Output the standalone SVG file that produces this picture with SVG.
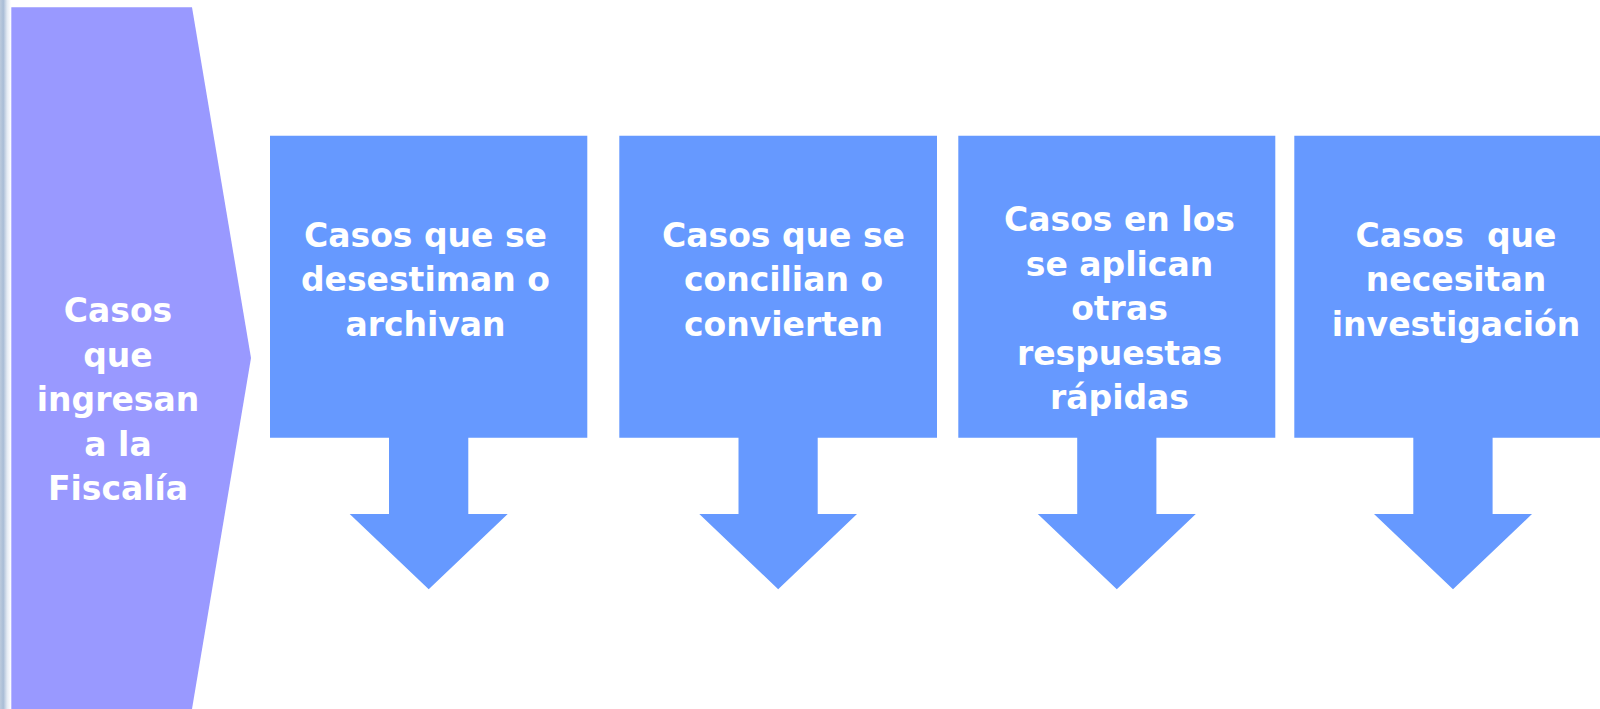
<svg xmlns="http://www.w3.org/2000/svg" width="1600" height="709" viewBox="0 0 1600 709">
  <style>
    .lbl { font-family: "DejaVu Sans", Verdana, sans-serif; font-weight: bold; font-size: 33px; fill: #FFFFFF; text-anchor: middle; white-space: pre; }
    .callout { fill: #6699FF; }
    .entry { fill: #9999FF; }
  </style>
  <defs>
    <linearGradient id="edge" x1="0" y1="0" x2="1" y2="0">
      <stop offset="0" stop-color="#bccbdd"/>
      <stop offset="0.3" stop-color="#a9bdd6"/>
      <stop offset="0.65" stop-color="#e4ebf3"/>
      <stop offset="1" stop-color="#ffffff"/>
    </linearGradient>
  </defs>
  <rect x="0" y="0" width="1600" height="709" fill="#FFFFFF"/>
  <rect x="0" y="0" width="11" height="709" fill="url(#edge)"/>

  <g id="node-entrada">
    <path class="entry" d="M11.3,7.3 H192 L251,358 L192,709 H11.3 Z"/>
    <text class="lbl"><tspan x="118" y="322">Casos</tspan><tspan x="118" y="366.5">que</tspan><tspan x="118" y="411">ingresan</tspan><tspan x="118" y="455.5">a la</tspan><tspan x="118" y="500">Fiscalía</tspan></text>
  </g>

  <g id="node-desestiman">
    <path class="callout" d="M270,135.7 H587.3 V437.7 H468.3 V514 H507.7 L428.7,589.3 L349.7,514 H389 V437.7 H270 Z"/>
    <text class="lbl"><tspan x="425.5" y="246.7">Casos que se</tspan><tspan x="425.5" y="291.4">desestiman o</tspan><tspan x="425.5" y="336">archivan</tspan></text>
  </g>

  <g id="node-concilian">
    <path class="callout" d="M619.3,135.7 H937 V437.7 H817.7 V514 H857 L778.2,589.3 L699.3,514 H738.5 V437.7 H619.3 Z"/>
    <text class="lbl"><tspan x="783.5" y="246.7">Casos que se</tspan><tspan x="783.5" y="291.4">concilian o</tspan><tspan x="783.5" y="336">convierten</tspan></text>
  </g>

  <g id="node-respuestas">
    <path class="callout" d="M958.3,135.7 H1275.3 V437.7 H1156.4 V514 H1195.8 L1116.8,589.3 L1037.8,514 H1077.2 V437.7 H958.3 Z"/>
    <text class="lbl"><tspan x="1119.5" y="231">Casos en los</tspan><tspan x="1119.5" y="275.5">se aplican</tspan><tspan x="1119.5" y="320">otras</tspan><tspan x="1119.5" y="364.5">respuestas</tspan><tspan x="1119.5" y="409">rápidas</tspan></text>
  </g>

  <g id="node-investigacion">
    <path class="callout" d="M1294.3,135.7 H1611.6 V437.7 H1492.6 V514 H1532 L1453,589.3 L1374,514 H1413.3 V437.7 H1294.3 Z"/>
    <text class="lbl"><tspan x="1456" y="246.7">Casos  que</tspan><tspan x="1456" y="291.4">necesitan</tspan><tspan x="1456" y="336">investigación</tspan></text>
  </g>

  <g id="connectors"/>
</svg>
